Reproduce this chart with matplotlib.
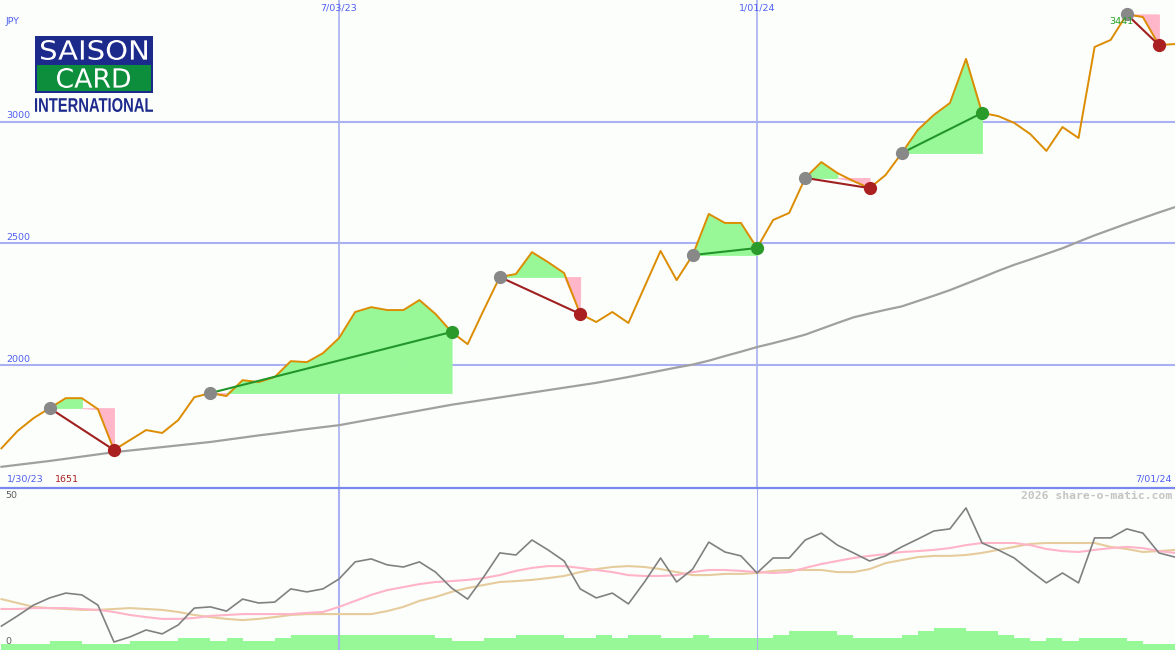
import numpy as np
import pandas as pd
import matplotlib
matplotlib.use("Agg")
import matplotlib.pyplot as plt
from matplotlib.lines import Line2D
from matplotlib.patches import Rectangle, PathPatch
from matplotlib.textpath import TextPath
from matplotlib.font_manager import FontProperties
from matplotlib.transforms import Affine2D, IdentityTransform

# weekly data, Feb 2023 - Jul 2024
start_date = "2023-02-06"

# weekly close (JPY)
price = [1658, 1729, 1782, 1823, 1864, 1864, 1819, 1651, 1692, 1733,
         1721, 1774, 1868, 1885, 1873, 1938, 1930, 1951, 2016, 2012,
         2049, 2111, 2218, 2238, 2226, 2226, 2267, 2210, 2136, 2086,
         2226, 2362, 2374, 2464, 2423, 2378, 2210, 2177, 2218, 2173,
         2321, 2469, 2349, 2452, 2621, 2584, 2584, 2481, 2596, 2625,
         2769, 2834, 2789, 2756, 2727, 2781, 2871, 2966, 3028, 3077,
         3258, 3036, 3023, 2995, 2949, 2880, 2978, 2933, 3307, 3336,
         3441, 3430, 3315, 3319]

# long moving average (JPY)
ma_long = [1582, 1590, 1598, 1606, 1615, 1624, 1633, 1642, 1649, 1656,
           1663, 1670, 1677, 1684, 1693, 1702, 1711, 1719, 1728, 1737,
           1745, 1753, 1765, 1777, 1789, 1801, 1813, 1825, 1837, 1847,
           1857, 1867, 1877, 1887, 1897, 1907, 1917, 1927, 1939, 1951,
           1964, 1977, 1990, 2002, 2018, 2037, 2055, 2074, 2090, 2107,
           2125, 2149, 2173, 2196, 2212, 2227, 2241, 2263, 2285, 2308,
           2334, 2360, 2387, 2412, 2434, 2457, 2480, 2507, 2533, 2557,
           2581, 2604, 2627, 2649]

# lower panel oscillator and its two averages (0-50 scale)
osc = [6.3, 9.7, 13.3, 15.7, 17.3, 16.7, 13.3, 1.0, 2.7, 5.0,
       3.7, 6.7, 12.3, 12.7, 11.3, 15.3, 14.0, 14.3, 18.7, 17.7,
       18.7, 22.0, 27.7, 28.7, 26.7, 26.0, 27.7, 24.3, 19.0, 15.3,
       22.7, 30.7, 30.0, 35.0, 31.7, 28.0, 18.7, 15.7, 17.3, 13.7,
       21.0, 29.0, 21.0, 25.3, 34.3, 31.0, 29.7, 24.0, 29.0, 29.0,
       35.0, 37.3, 33.3, 30.7, 28.0, 29.7, 32.7, 35.3, 38.0, 38.7,
       45.7, 34.0, 31.7, 29.0, 24.7, 20.7, 24.0, 20.7, 35.7, 35.7,
       38.7, 37.3, 30.7, 29.3]

osc_fast = [12.0, 12.0, 12.3, 12.3, 12.3, 12.0, 11.7, 11.0, 10.0, 9.3,
            8.7, 8.7, 9.0, 9.7, 10.0, 10.3, 10.3, 10.3, 10.3, 10.7,
            11.0, 12.7, 14.7, 16.7, 18.3, 19.3, 20.3, 21.0, 21.3, 21.7,
            22.3, 23.3, 24.7, 25.7, 26.3, 26.3, 25.7, 25.0, 24.3, 23.3,
            23.0, 23.0, 23.3, 24.3, 25.0, 25.0, 24.7, 24.3, 24.0, 24.3,
            25.7, 27.0, 28.0, 29.0, 29.7, 30.3, 31.0, 31.3, 31.7, 32.3,
            33.3, 34.0, 34.0, 34.0, 33.3, 32.0, 31.3, 31.0, 31.7, 32.3,
            32.7, 32.3, 31.3, 30.7]

osc_slow = [15.3, 14.0, 12.7, 12.3, 12.0, 11.7, 11.7, 12.0, 12.3, 12.0,
            11.7, 11.0, 10.0, 9.3, 8.7, 8.3, 8.7, 9.3, 10.0, 10.3,
            10.3, 10.3, 10.3, 10.3, 11.3, 12.7, 14.7, 16.0, 17.7, 19.0,
            20.0, 21.0, 21.3, 21.7, 22.3, 23.0, 24.3, 25.3, 26.0, 26.3,
            26.0, 25.3, 24.3, 23.3, 23.3, 23.7, 23.7, 24.0, 24.7, 25.0,
            25.0, 25.0, 24.3, 24.3, 25.3, 27.3, 28.3, 29.3, 29.7, 29.7,
            30.0, 30.7, 31.7, 32.7, 33.7, 34.0, 34.0, 34.0, 34.0, 32.7,
            32.0, 31.0, 31.3, 31.7]

# volume bars (relative units)
volume = [2, 2, 2, 3, 3, 2, 2, 2, 3, 3,
          3, 4, 4, 3, 4, 3, 3, 4, 5, 5,
          5, 5, 5, 5, 5, 5, 5, 4, 3, 3,
          4, 4, 5, 5, 5, 4, 4, 5, 4, 5,
          5, 4, 4, 5, 4, 4, 4, 4, 5, 6.3,
          6.3, 6.3, 5, 4, 4, 4, 5, 6.3, 7.3, 7.3,
          6.3, 6.3, 5, 4, 3, 4, 3, 4, 4, 4,
          3, 2, 2, 2]

# swings: (start week, end week)
swings = [(3, 7), (13, 28), (31, 36), (43, 47), (50, 54), (56, 61), (70, 72)]

date_ticks = ["2023-07-03", "2024-01-01"]
date_tick_labels = ["7/03/23", "1/01/24"]
price_ticks = [2000, 2500, 3000]
first_label = "1/30/23"
last_label = "7/01/24"
low_label = "1651"
high_label = "3441"

dates = pd.date_range(start_date, periods=len(price), freq="7D")
price = np.array(price, dtype=float)

W, H = 1175, 650
bg = "#fcfefc"
grid_c = "#a9b1f2"
blue_txt = "#4f5ff0"


def fx(x):
    return x / W


def fy(y):
    return 1 - y / H


fig = plt.figure(figsize=(W / 100, H / 100), dpi=100, facecolor=bg)

# main price panel
ax = fig.add_axes([0, fy(487), 1, 487 / H])
ax.set_facecolor(bg)
ax.set_xlim(dates[0] - pd.Timedelta(hours=15), dates[-1])
ax.set_ylim(1499, 3500)
ax.axis("off")

for v in price_ticks:
    ax.axhline(v, color=grid_c, lw=1.5, zorder=1)
for d in date_ticks:
    ax.axvline(pd.Timestamp(d), color=grid_c, lw=1.2, zorder=1)

ax.plot(dates, ma_long, color="#a0a0a0", lw=1.6, zorder=3)

green_fill = "#98f898"
pink_fill = "#ffb6c8"
for s, e in swings:
    level = price[s]
    for j in range(s, e):
        xs = dates[j:j + 2]
        ps = price[j:j + 2]
        if ps[1] >= level:
            ax.fill_between(xs, level, np.maximum(ps, level), facecolor=green_fill,
                            edgecolor=green_fill, lw=0.6, zorder=2)
        else:
            ax.fill_between(xs, level, np.minimum(ps, level), facecolor=pink_fill,
                            edgecolor=pink_fill, lw=0.6, zorder=2)

ax.plot(dates, price, color="#dc8c00", lw=1.4, zorder=4)

for s, e in swings:
    up = price[e] > price[s]
    lc = "#22962a" if up else "#a02020"
    mc = "#2a9a2a" if up else "#aa2020"
    ax.plot([dates[s], dates[e]], [price[s], price[e]], color=lc, lw=1.5, zorder=5)
    ax.plot(dates[s], price[s], "o", color="#888888", ms=8.5, zorder=6)
    ax.plot(dates[e], price[e], "o", color=mc, ms=8.5, zorder=6)

# lower indicator panel
ax2 = fig.add_axes([0, 0, 1, 161 / H])
ax2.set_facecolor(bg)
ax2.set_xlim(ax.get_xlim())
ax2.set_ylim(-1.67, 52)
ax2.axis("off")

axv = ax2.twinx()
axv.set_ylim(0, 54)
axv.axis("off")
axv.bar(dates, volume, width=7, align="edge", color="#96f896", lw=0, zorder=1)

ax2.set_zorder(axv.get_zorder() + 1)
ax2.patch.set_visible(False)
ax2.axvline(pd.Timestamp(date_ticks[0]), color=grid_c, lw=1.5, zorder=1)
ax2.axvline(pd.Timestamp(date_ticks[1]), color=grid_c, lw=0.8, zorder=1)
ax2.plot(dates, osc_slow, color="#e6cc9c", lw=1.5, zorder=2)
ax2.plot(dates, osc_fast, color="#ffb4c8", lw=1.5, zorder=2)
ax2.plot(dates, osc, color="#808080", lw=1.2, zorder=3)

# separator between panels
fig.add_artist(Line2D([0, 1], [fy(487.5), fy(487.5)], transform=fig.transFigure,
                      color="#7888ee", lw=1.6))

# texts
small = dict(fontsize=6.8, family="DejaVu Sans")
fig.text(fx(6), fy(21), "JPY", color=blue_txt, va="center", ha="left", **small)
for v in price_ticks:
    ypix = ax.transData.transform((0, v))[1]
    fig.text(fx(6), (ypix + 6) / H, str(v), color=blue_txt, va="center", ha="left", **small)
for d, lab in zip(date_ticks, date_tick_labels):
    xpix = ax.transData.transform((matplotlib.dates.date2num(pd.Timestamp(d)), 0))[0]
    fig.text(xpix / W, fy(8), lab, color=blue_txt, va="center", ha="center", **small)
fig.text(fx(7), fy(479), first_label, color=blue_txt, va="center", ha="left", **small)
fig.text(fx(55), fy(479), low_label, color="#a82020", va="center", ha="left", **small)
fig.text(fx(1172), fy(479), last_label, color=blue_txt, va="center", ha="right", **small)
fig.text(fx(1121), fy(21), high_label, color="#22a022", va="center", ha="center", **small)
fig.text(fx(5), fy(495.5), "50", color="#606060", va="center", ha="left", **small)
fig.text(fx(5), fy(642), "0", color="#606060", va="center", ha="left", **small)
fig.text(fx(1172), fy(496), "2026 share-o-matic.com", color="#c4c4c4", va="center",
         ha="right", fontsize=8.2, family="DejaVu Sans Mono", weight="bold")

# logo
navy = "#1c2a8c"
fig.add_artist(Rectangle((fx(35), fy(93)), 118 / W, 57 / H, transform=fig.transFigure,
                         facecolor=navy, edgecolor="none"))
fig.add_artist(Rectangle((fx(37), fy(91)), 114 / W, 26 / H, transform=fig.transFigure,
                         facecolor="#0c8e3c", edgecolor="none"))


def logo_word(word, x0, x1, y_top, y_bot, color, prop):
    # text drawn as a path squeezed into a pixel box
    tp = TextPath((0, 0), word, size=50, prop=prop)
    ext = tp.get_extents()
    sx = (x1 - x0) / ext.width
    sy = (y_bot - y_top) / ext.height
    tr = (Affine2D().translate(-ext.x0, -ext.y0).scale(sx, sy)
          .translate(x0, H - y_bot))
    fig.add_artist(PathPatch(tr.transform_path(tp), facecolor=color, edgecolor="none",
                             transform=IdentityTransform()))


thin = FontProperties(family="DejaVu Sans", weight="normal")
bold = FontProperties(family=["Liberation Sans", "DejaVu Sans"], weight="bold")
logo_word("SAISON", 41, 147, 40, 60, "white", thin)
logo_word("CARD", 57, 130, 68, 88, "white", thin)
logo_word("INTERNATIONAL", 35, 153, 98, 112, navy, bold)

fig.savefig("out.png", dpi=100, facecolor=bg)
